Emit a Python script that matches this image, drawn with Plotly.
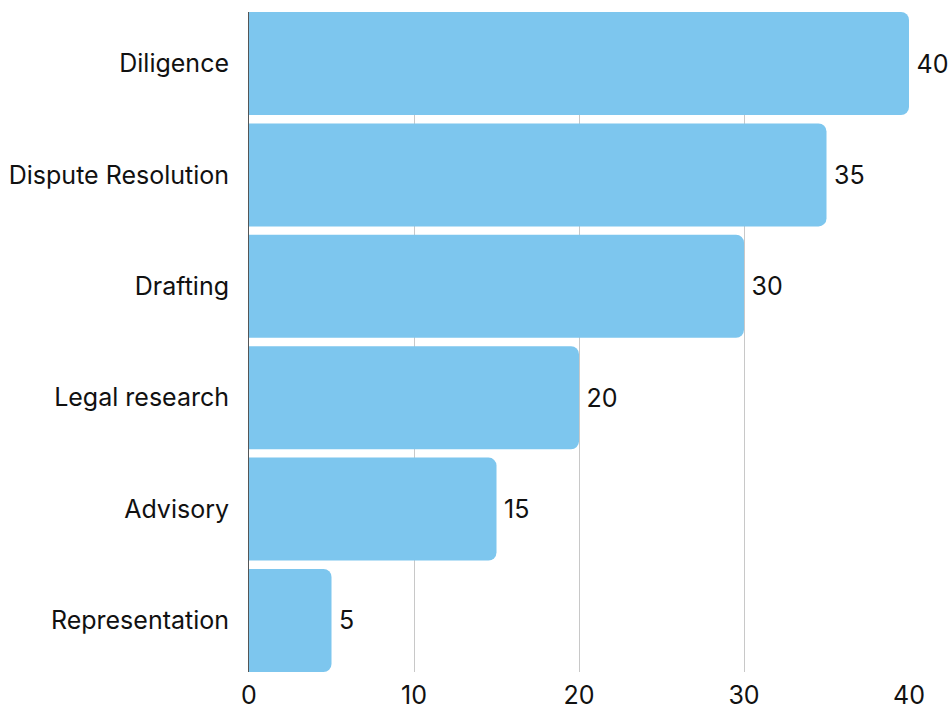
import plotly.graph_objects as go

categories = ["Diligence", "Dispute Resolution", "Drafting", "Legal research", "Advisory", "Representation"]
values = [40, 35, 30, 20, 15, 5]
tick_vals = [0, 10, 20, 30, 40]

FONT = "Inter"
FS = 25
BARGAP = 0.075
half = (1 - BARGAP) / 2

fig = go.Figure(go.Bar(
    x=values,
    y=categories,
    orientation="h",
    marker=dict(color="#7DC6EE", cornerradius=8, line=dict(width=0)),
    text=[f"\u2009{v}" for v in values],
    textposition="outside",
    textfont=dict(family=FONT, size=FS, color="#111111"),
    cliponaxis=False,
))

fig.update_layout(
    width=951, height=707,
    margin=dict(l=249, r=42, t=12, b=35, autoexpand=False),
    plot_bgcolor="white", paper_bgcolor="white",
    bargap=BARGAP,
    showlegend=False,
    font=dict(family=FONT, size=FS, color="#111111"),
    xaxis=dict(
        range=[0, 40], tickvals=tick_vals, showgrid=True, gridcolor="#c8c8c8", gridwidth=1,
        zeroline=False, showline=False, ticks="", ticklabelstandoff=6, automargin=False,
        tickfont=dict(family=FONT, size=FS, color="#111111"),
    ),
    yaxis=dict(
        categoryorder="array", categoryarray=categories[::-1],
        range=[-half, len(categories) - 1 + half],
        showline=True, linecolor="#555555", linewidth=1, showgrid=False, ticks="",
        ticklabelstandoff=14, automargin=False,
        tickfont=dict(family=FONT, size=FS, color="#111111"),
    ),
)

# remove the page's default body margin so the 951x707 figure fills the window exactly
fig.write_html(
    "out.html",
    config={"displayModeBar": False},
    post_script="document.body.style.margin='0';document.documentElement.style.overflow='hidden';document.body.style.overflow='hidden';",
)
